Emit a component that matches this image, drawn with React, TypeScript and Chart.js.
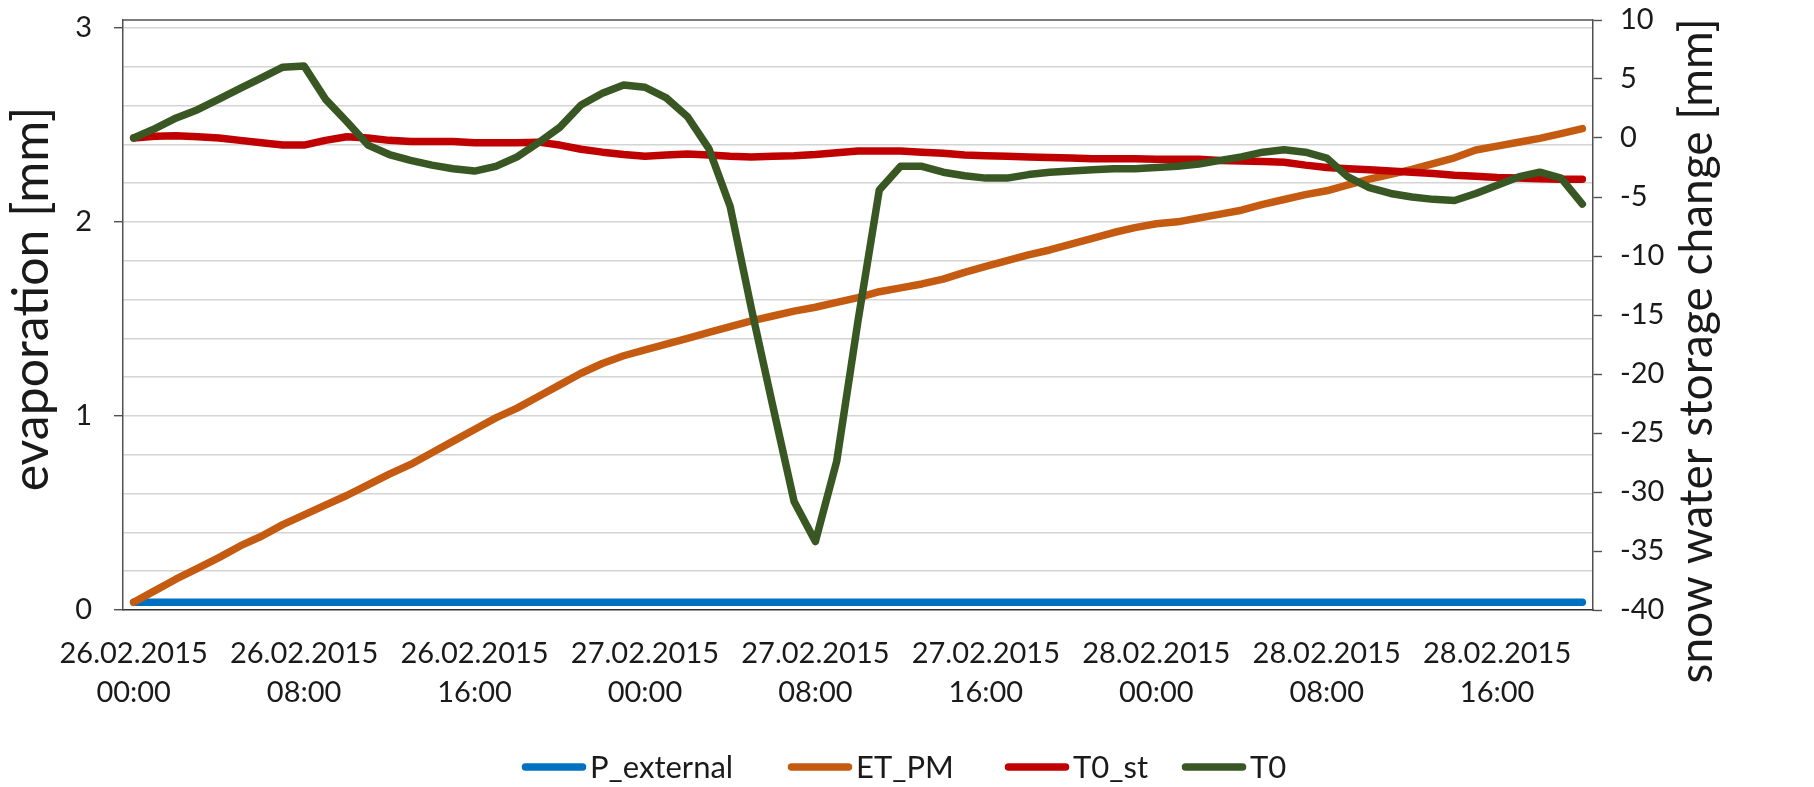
import React, { useEffect, useRef } from 'react';
import { Chart, registerables } from 'chart.js';

Chart.register(...registerables);

// ---- categories (hourly) ----
const DAYS = ['26.02.2015', '27.02.2015', '28.02.2015'];
const HOURS = [
  '00:00', '01:00', '02:00', '03:00', '04:00', '05:00', '06:00', '07:00',
  '08:00', '09:00', '10:00', '11:00', '12:00', '13:00', '14:00', '15:00',
  '16:00', '17:00', '18:00', '19:00', '20:00', '21:00', '22:00', '23:00',
];
const CATEGORIES: string[] = DAYS.flatMap((d) => HOURS.map((h) => `${d} ${h}`)).slice(0, 69);

// ---- series (left axis: evaporation [mm]) ----
const P_EXTERNAL = [
  0.04, 0.04, 0.04, 0.04, 0.04, 0.04, 0.04, 0.04, 0.04, 0.04,
  0.04, 0.04, 0.04, 0.04, 0.04, 0.04, 0.04, 0.04, 0.04, 0.04,
  0.04, 0.04, 0.04, 0.04, 0.04, 0.04, 0.04, 0.04, 0.04, 0.04,
  0.04, 0.04, 0.04, 0.04, 0.04, 0.04, 0.04, 0.04, 0.04, 0.04,
  0.04, 0.04, 0.04, 0.04, 0.04, 0.04, 0.04, 0.04, 0.04, 0.04,
  0.04, 0.04, 0.04, 0.04, 0.04, 0.04, 0.04, 0.04, 0.04, 0.04,
  0.04, 0.04, 0.04, 0.04, 0.04, 0.04, 0.04, 0.04, 0.04,
];
const ET_PM = [
  0.04, 0.10, 0.16, 0.215, 0.27, 0.33, 0.38, 0.44, 0.49, 0.54,
  0.59, 0.645, 0.70, 0.75, 0.81, 0.87, 0.93, 0.99, 1.04, 1.10,
  1.16, 1.22, 1.27, 1.31, 1.34, 1.37, 1.40, 1.43, 1.46, 1.49,
  1.515, 1.54, 1.56, 1.585, 1.61, 1.64, 1.66, 1.68, 1.705, 1.74,
  1.77, 1.80, 1.83, 1.855, 1.885, 1.915, 1.945, 1.97, 1.99, 2.00,
  2.02, 2.04, 2.06, 2.09, 2.115, 2.14, 2.16, 2.19, 2.22, 2.245,
  2.27, 2.30, 2.33, 2.37, 2.39, 2.41, 2.43, 2.455, 2.48,
];

// ---- series (right axis: snow water storage change [mm]) ----
const T0_ST = [
  0, 0.15, 0.2, 0.1, 0.0, -0.2, -0.4, -0.6, -0.6, -0.2,
  0.1, 0.0, -0.2, -0.3, -0.3, -0.3, -0.4, -0.4, -0.4, -0.35,
  -0.6, -0.95, -1.2, -1.4, -1.55, -1.45, -1.35, -1.45, -1.55, -1.6,
  -1.55, -1.5, -1.4, -1.25, -1.1, -1.1, -1.1, -1.2, -1.3, -1.45,
  -1.5, -1.55, -1.6, -1.65, -1.7, -1.75, -1.75, -1.75, -1.8, -1.8,
  -1.8, -1.9, -1.95, -2.0, -2.05, -2.3, -2.5, -2.6, -2.7, -2.8,
  -2.9, -3.0, -3.15, -3.25, -3.35, -3.4, -3.45, -3.5, -3.5,
];
const T0 = [
  0, 0.8, 1.7, 2.4, 3.3, 4.2, 5.1, 6.0, 6.1, 3.3,
  1.4, -0.6, -1.4, -1.9, -2.3, -2.6, -2.8, -2.4, -1.6, -0.4,
  0.9, 2.8, 3.8, 4.5, 4.3, 3.4, 1.8, -0.9, -5.8, -14.5,
  -22.7, -30.8, -34.2, -27.4, -15.5, -4.4, -2.4, -2.4, -2.9, -3.2,
  -3.4, -3.4, -3.1, -2.9, -2.8, -2.7, -2.6, -2.6, -2.5, -2.4,
  -2.2, -1.9, -1.6, -1.2, -1.0, -1.2, -1.7, -3.3, -4.2, -4.7,
  -5.0, -5.2, -5.3, -4.7, -4.0, -3.3, -2.9, -3.4, -5.6,
];

const SERIES_NAMES = ['P_external', 'ET_PM', 'T0_st', 'T0'];
const SERIES_COLORS = ['#0070C0', '#C55A11', '#C00000', '#385723'];

const LEFT_TITLE = 'evaporation [mm]';
const RIGHT_TITLE = 'snow water storage change [mm]';

const FONT = 'Lato';
const TEXT_COLOR = '#1a1a1a';
const AXIS_COLOR = '#505050';
const GRID_COLOR = '#d4d4d4';

const isInt = (v: number) => Math.abs(v - Math.round(v)) < 1e-6;

const framePlugin = {
  id: 'frameTop',
  beforeDatasetsDraw(chart: any) {
    const { ctx, chartArea } = chart;
    ctx.save();
    ctx.strokeStyle = AXIS_COLOR;
    ctx.lineWidth = 1.5;
    ctx.beginPath();
    ctx.moveTo(chartArea.left, chartArea.top);
    ctx.lineTo(chartArea.right, chartArea.top);
    ctx.stroke();
    ctx.restore();
  },
};

const titlesPlugin = {
  id: 'axisTitles',
  afterDraw(chart: any) {
    const { ctx } = chart;
    ctx.save();
    ctx.fillStyle = TEXT_COLOR;
    ctx.textAlign = 'center';
    ctx.textBaseline = 'middle';
    const draw = (text: string, size: number, x: number, y: number) => {
      ctx.save();
      ctx.font = `${size}px ${FONT}`;
      ctx.translate(x, y);
      ctx.rotate(-Math.PI / 2);
      ctx.fillText(text, 0, 0);
      ctx.restore();
    };
    draw(LEFT_TITLE, 50, 32, 299);
    draw(RIGHT_TITLE, 46, 1697, 351);
    ctx.restore();
  },
};

const LEGEND_ITEM_X = [522, 788, 1005, 1182];

const legendPlugin = {
  id: 'bottomLegend',
  afterDraw(chart: any) {
    const { ctx } = chart;
    ctx.save();
    ctx.font = `31px ${FONT}`;
    ctx.textBaseline = 'middle';
    ctx.textAlign = 'left';
    const lineW = 64;
    const textGap = 4;
    const y = 767;
    chart.data.datasets.forEach((d: any, i: number) => {
      const x = LEGEND_ITEM_X[i];
      ctx.strokeStyle = d.borderColor;
      ctx.lineWidth = 7.5;
      ctx.lineCap = 'round';
      ctx.beginPath();
      ctx.moveTo(x + 3.5, y);
      ctx.lineTo(x + lineW - 3.5, y);
      ctx.stroke();
      ctx.fillStyle = TEXT_COLOR;
      ctx.fillText(d.label, x + lineW + textGap, y + 1);
    });
    ctx.restore();
  },
};

export default function App() {
  const ref = useRef<HTMLCanvasElement>(null);

  useEffect(() => {
    const canvas = ref.current;
    if (!canvas) return;
    const values = [P_EXTERNAL, ET_PM, T0_ST, T0];
    const axes = ['y', 'y', 'y1', 'y1'];
    const chart = new Chart(canvas, {
      type: 'line',
      data: {
        labels: CATEGORIES,
        datasets: SERIES_NAMES.map((name, i) => ({
          label: name,
          data: values[i],
          yAxisID: axes[i],
          borderColor: SERIES_COLORS[i],
          backgroundColor: SERIES_COLORS[i],
          borderWidth: 7.5,
          borderCapStyle: 'round',
          borderJoinStyle: 'round',
          pointRadius: 0,
          tension: 0,
          order: SERIES_NAMES.length - i,
        })),
      },
      options: {
        responsive: false,
        animation: false,
        devicePixelRatio: 1,
        layout: { padding: { top: 20, left: 0, right: 0, bottom: 0 } },
        plugins: {
          legend: { display: false },
          tooltip: { enabled: false },
        },
        scales: {
          x: {
            type: 'category',
            offset: true,
            grid: { display: false, drawTicks: false },
            border: { display: true, color: '#303030', width: 1.6 },
            ticks: {
              autoSkip: false,
              maxRotation: 0,
              minRotation: 0,
              padding: 24,
              color: TEXT_COLOR,
              font: { family: FONT, size: 29, lineHeight: 1.345 },
              callback: (_v: any, i: number) => (i % 8 === 0 ? CATEGORIES[i].split(' ') : ''),
            },
            afterFit: (s: any) => {
              s.height = 177;
              s.paddingLeft = 0;
              s.paddingRight = 0;
            },
          },
          y: {
            position: 'left',
            min: 0,
            max: 3.04,
            ticks: {
              stepSize: 0.2,
              includeBounds: false,
              padding: 22,
              color: TEXT_COLOR,
              font: { family: FONT, size: 29 },
              callback: (v: any) => (isInt(Number(v)) ? String(Math.round(Number(v))) : ''),
            },
            grid: {
              color: (c: any) => (c.tick && c.tick.value === 0 ? 'rgba(0,0,0,0)' : GRID_COLOR),
              lineWidth: 1.4,
              tickLength: 9,
              tickWidth: 1.4,
              tickColor: (c: any) => (c.tick && isInt(c.tick.value) ? AXIS_COLOR : 'rgba(0,0,0,0)'),
            },
            border: { display: true, color: AXIS_COLOR, width: 1.5 },
            afterFit: (s: any) => {
              s.width = 123;
              s.paddingTop = 0;
              s.paddingBottom = 0;
            },
          },
          y1: {
            position: 'right',
            min: -40,
            max: 10,
            ticks: {
              stepSize: 5,
              padding: 18,
              color: TEXT_COLOR,
              font: { family: FONT, size: 29 },
            },
            grid: {
              drawOnChartArea: false,
              tickLength: 9,
              tickWidth: 1.4,
              tickColor: AXIS_COLOR,
            },
            border: { display: true, color: AXIS_COLOR, width: 1.5 },
            afterFit: (s: any) => {
              s.width = 221;
              s.paddingTop = 0;
              s.paddingBottom = 0;
            },
          },
        },
      } as any,
      plugins: [framePlugin, titlesPlugin, legendPlugin],
    });
    return () => chart.destroy();
  }, []);

  return (
    <div style={{ position: 'absolute', left: 0, top: 0, width: 1814, height: 787, background: '#fff' }}>
      <canvas ref={ref} width={1814} height={787} style={{ display: 'block' }} />
    </div>
  );
}
